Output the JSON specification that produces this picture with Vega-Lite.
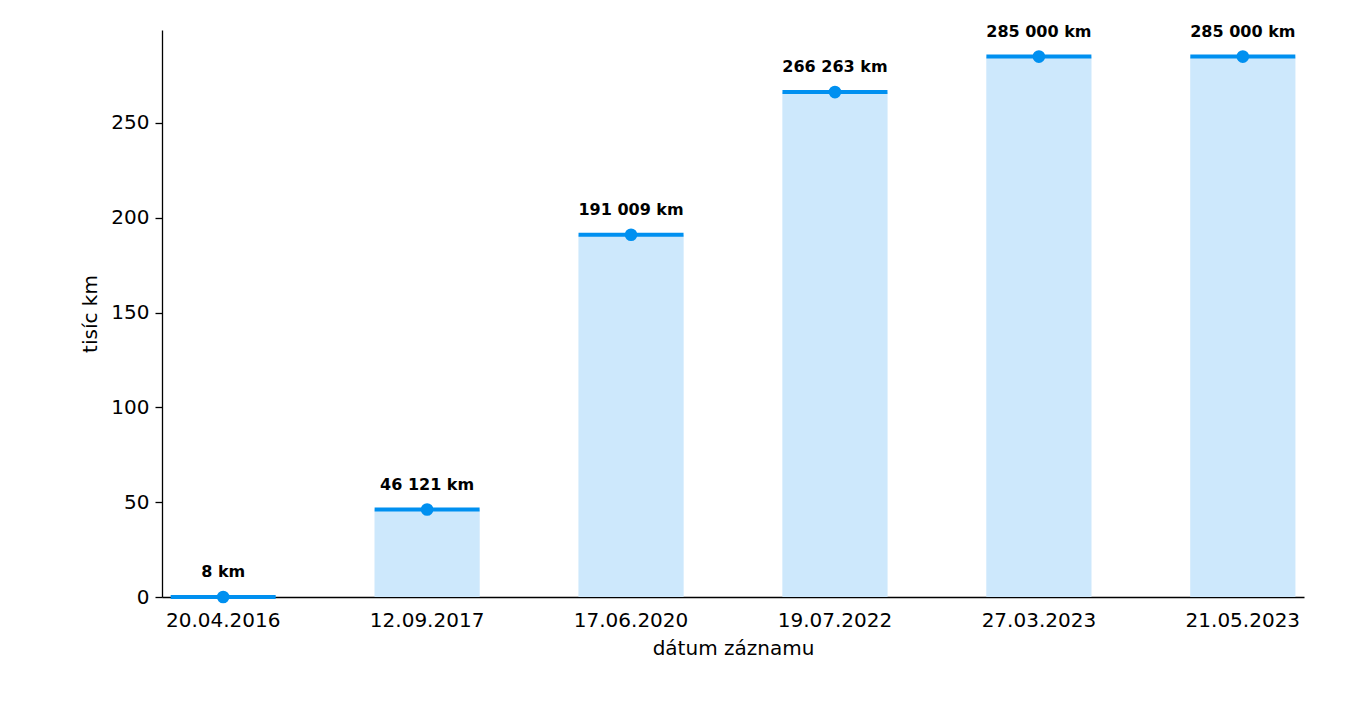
{
  "$schema": "https://vega.github.io/schema/vega-lite/v6.json",
  "width": 1142,
  "height": 567,
  "autosize": {"type": "none"},
  "padding": {"left": 162, "top": 30, "right": 60, "bottom": 109},
  "background": "white",
  "config": {
    "view": {"stroke": null},
    "font": "DejaVu Sans",
    "axis": {"labelFont": "DejaVu Sans", "titleFont": "DejaVu Sans", "labelColor": "#000", "titleColor": "#000", "domainColor": "#000", "tickColor": "#000", "grid": false, "titleFontWeight": "normal"}
  },
  "data": {
    "values": [
      {"datum": "20.04.2016", "tis": 0.008, "label": "8 km"},
      {"datum": "12.09.2017", "tis": 46.121, "label": "46 121 km"},
      {"datum": "17.06.2020", "tis": 191.009, "label": "191 009 km"},
      {"datum": "19.07.2022", "tis": 266.263, "label": "266 263 km"},
      {"datum": "27.03.2023", "tis": 285.0, "label": "285 000 km"},
      {"datum": "21.05.2023", "tis": 285.0, "label": "285 000 km"}
    ]
  },
  "encoding": {
    "x": {
      "field": "datum", "type": "nominal", "sort": null,
      "scale": {"paddingInner": 0.484, "paddingOuter": 0.042},
      "axis": {"title": "dátum záznamu", "labelAngle": 0, "labelFontSize": 20, "titleFontSize": 20, "ticks": false, "labelPadding": 13, "titlePadding": 8, "domainWidth": 1.3}
    },
    "y": {
      "field": "tis", "type": "quantitative",
      "scale": {"domain": [0, 299], "nice": false},
      "axis": {"title": "tisíc km", "values": [0, 50, 100, 150, 200, 250], "labelFontSize": 20, "titleFontSize": 20, "tickSize": 7, "labelPadding": 6, "titlePadding": 10, "domainWidth": 1.3, "tickWidth": 1.3}
    }
  },
  "layer": [
    {"mark": {"type": "bar", "color": "#cde8fc"}},
    {"mark": {"type": "tick", "color": "#0090f0", "size": 105, "thickness": 4, "orient": "horizontal", "opacity": 1}},
    {"mark": {"type": "point", "filled": true, "color": "#0090f0", "size": 160, "opacity": 1}},
    {"mark": {"type": "text", "dy": -25, "baseline": "middle", "fontWeight": "bold", "fontSize": 16, "font": "DejaVu Sans", "color": "#000"}, "encoding": {"text": {"field": "label"}}}
  ]
}
